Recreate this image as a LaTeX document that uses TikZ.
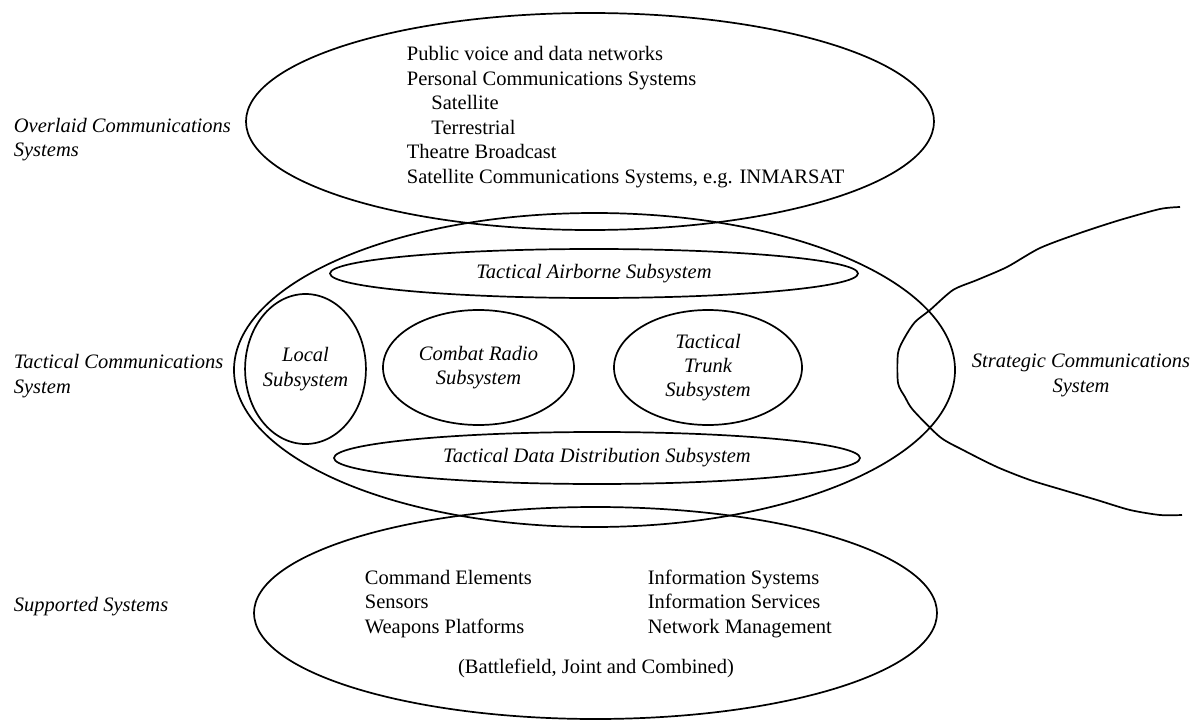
\documentclass[tikz,border=0pt]{standalone}
\usepackage{fontspec}
\setmainfont{Liberation Serif}
\usetikzlibrary{shapes.geometric}
\newcommand\pxl{0.585pt}
\newcommand\diagfont{\fontsize{12}{14.2}\selectfont}

\begin{document}
\begin{tikzpicture}[x=\pxl, y=-\pxl, line width=1pt,
ring/.style 2 args={ellipse, draw, minimum width=#1*\pxl,
  minimum height=#2*\pxl, inner sep=0pt},
subsys/.style 2 args={ring={#1}{#2}, font=\diagfont\itshape, align=center},
sidetext/.style={font=\diagfont\itshape, align=left, anchor=base west, inner sep=0pt},
listtext/.style={font=\diagfont, align=left, anchor=base west, inner sep=0pt}
]
\useasboundingbox (0,0) rectangle (1201,720);
% the three system rings
\node[ring={688}{217}] (overlaid) at (590,121.5) {};
\node[ring={721}{314}] (tactical) at (594.5,370) {};
\node[ring={683}{212}] (supported) at (595.5,613) {};
% subsystems of the tactical ring
\node[subsys={528}{49}] (airborne) at (594,273.5) {Tactical Airborne Subsystem};
\node[subsys={103}{150}] (local) at (305.5,369) {Local\\Subsystem};
\node[subsys={191}{115}] (radio) at (478.5,367.5) {Combat Radio\\Subsystem};
\node[subsys={188}{115}] (trunk) at (708,367.5) {Tactical\\Trunk\\Subsystem};
\node[subsys={526}{52}] (datadist) at (597,458) {Tactical Data Distribution Subsystem};
% strategic system, open curve
\draw plot[smooth, tension=0.45] coordinates {(1180,207) (1160,209) (1120,220)
  (1080,233) (1040,248) (1007,267) (977,280) (953,290) (930,310) (915,322)
  (905,337) (898,353) (898,383) (905,397) (913,410) (940,437) (963,450)
  (997,467) (1030,480) (1063,490) (1097,500) (1130,510) (1160,515) (1182,515)};
% contents (anchored on the baseline of the last line)
\node[listtext, font=\fontsize{12}{14.3}\selectfont] (overlist) at (406,183) {Public voice and data networks\\
  Personal Communications Systems\\
  \hspace*{1.2em}Satellite\\
  \hspace*{1.2em}Terrestrial\\
  Theatre Broadcast\\
  Satellite Communications Systems, e.g. INMARSAT};
\node[listtext] (suplistA) at (364,633) {Command Elements\\Sensors\\Weapons Platforms};
\node[listtext] (suplistB) at (647,633) {Information Systems\\Information Services\\Network Management};
\node[font=\diagfont, anchor=base, inner sep=0pt] (scope) at (596,673) {(Battlefield, Joint and Combined)};
% side labels
\node[sidetext] (overlab) at (13,157) {Overlaid Communications\\Systems};
\node[sidetext] (taclab) at (13,393) {Tactical Communications\\System};
\node[sidetext] (suplab) at (13,611) {Supported Systems};
\node[font=\diagfont\itshape, align=center, anchor=base, inner sep=0pt] (stratlab)
  at (1081,392) {Strategic Communications\\System};
\end{tikzpicture}
\end{document}
